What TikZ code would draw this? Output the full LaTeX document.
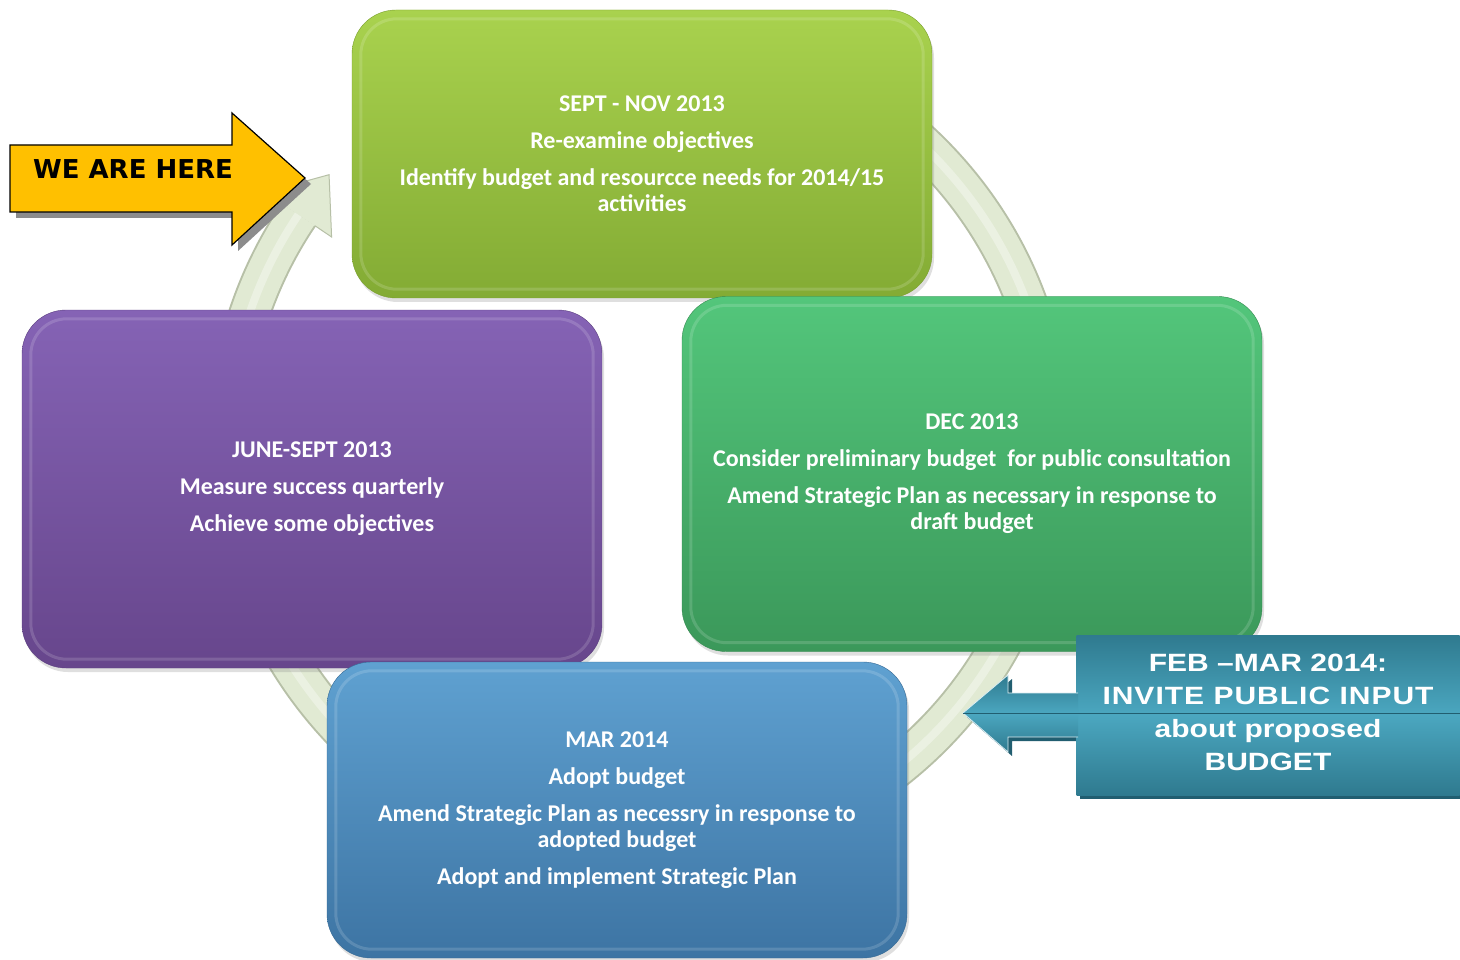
\documentclass[tikz,border=0pt]{standalone}
\usepackage{fontspec}
\setmainfont{Carlito}
\newfontfamily\herefont{DejaVu Sans}
\newfontfamily\calloutfont{Liberation Sans}[FakeStretch=1.2]
\usepackage{tikz}
\usetikzlibrary{
    shadows
}
\definecolor{limetop}{HTML}{A9D24E}
\definecolor{limebot}{HTML}{83AB34}
\definecolor{limeedge}{HTML}{7A9F2E}
\definecolor{jadetop}{HTML}{53C67B}
\definecolor{jadebot}{HTML}{3B985A}
\definecolor{jadeedge}{HTML}{348A50}
\definecolor{plumtop}{HTML}{8563B5}
\definecolor{plumbot}{HTML}{67468C}
\definecolor{plumedge}{HTML}{5C3F80}
\definecolor{skytop}{HTML}{5FA1D1}
\definecolor{skybot}{HTML}{3D74A3}
\definecolor{skyedge}{HTML}{366A95}
\definecolor{ringfill}{HTML}{E1EAD3}
\definecolor{ringedge}{HTML}{B7C0A7}
\definecolor{ringlight}{HTML}{EBF1E2}
\definecolor{hereyellow}{HTML}{FFC000}
\definecolor{tealedge}{HTML}{2F7A8F}
\definecolor{tealmid}{HTML}{4BA7C0}
\definecolor{tealdark}{HTML}{215E70}
\tikzset{
    stage/.style={rounded corners=44pt, minimum width=580pt, text=white,
        align=center, font=\fontsize{24}{26}\selectfont\bfseries,
        drop shadow={shadow xshift=2pt, shadow yshift=-4pt, opacity=0.25}},
    rim/.style={draw=white, draw opacity=0.15, line width=3pt, rounded corners=36pt},
    band/.style={line width=#1}
}

\begin{document}
\begin{tikzpicture}[x=1pt, y=-1pt]
        \useasboundingbox[fill=white] (0,0) rectangle (1460,960);

        % the ring behind the stages
        \coordinate (hub) at (640,445);
        \draw[band=42pt, ringedge] ([shift={(-130:412)}]hub) arc[start angle=-130, end angle=214, radius=412];
        \draw[band=38pt, ringfill] ([shift={(-130:412)}]hub) arc[start angle=-130, end angle=214, radius=412];
        \draw[band=8pt, ringlight] ([shift={(-130:412)}]hub) arc[start angle=-130, end angle=214, radius=412];
        \fill[ringfill] ([shift={(214:452)}]hub) -- ([shift={(221:412)}]hub) -- ([shift={(214:372)}]hub) -- cycle;
        \draw[ringedge, line width=1pt] ([shift={(214:432)}]hub) -- ([shift={(214:452)}]hub)
            -- ([shift={(221:412)}]hub) -- ([shift={(214:372)}]hub) -- ([shift={(214:392)}]hub);

        % stages
        \draw (642,154) node[stage, minimum height=288pt, draw=limeedge, top color=limetop, bottom color=limebot](sept){SEPT - NOV 2013\\[11pt]
            Re-examine objectives\\[11pt]
            Identify budget and resourcce needs for 2014/15\\ activities};
        \draw (972,474) node[stage, minimum height=355pt, draw=jadeedge, top color=jadetop, bottom color=jadebot](dec){DEC 2013\\[11pt]
            Consider preliminary budget\ \ for public consultation\\[11pt]
            Amend Strategic Plan as necessary in response to\\ draft budget};
        \draw (312,489) node[stage, minimum height=358pt, draw=plumedge, top color=plumtop, bottom color=plumbot](june){JUNE-SEPT 2013\\[11pt]
            Measure success quarterly\\[11pt]
            Achieve some objectives};
        \draw (617,810) node[stage, minimum height=296pt, draw=skyedge, top color=skytop, bottom color=skybot](mar){MAR 2014\\[11pt]
            Adopt budget\\[11pt]
            Amend Strategic Plan as necessry in response to\\ adopted budget\\[11pt]
            Adopt and implement Strategic Plan};
        \foreach \s in {sept, dec, june, mar}
            \draw[rim] ([shift={(9pt,-9pt)}]\s.north west) rectangle ([shift={(-9pt,9pt)}]\s.south east);

        % we are here
        \fill[black!45] (16,151) -- (238,151) -- (238,119) -- (311,184) -- (238,251) -- (238,218) -- (16,218) -- cycle;
        \draw[fill=hereyellow, line width=1.2pt] (10,145) -- (232,145) -- (232,113) -- (305,178) -- (232,245) -- (232,212) -- (10,212) -- cycle;
        \draw (133,169) node[font=\herefont\bfseries\fontsize{26}{30}\selectfont](here){WE ARE HERE};

        % public input callout
        \fill[tealdark] (1080,640) rectangle (1460,799);
        \fill[tealdark] (967,717) -- (1012,679) -- (1012,697) -- (1080,697) -- (1080,741) -- (1012,741) -- (1012,756) -- cycle;
        \draw (1268,715) node[minimum width=383pt, minimum height=160pt, top color=tealedge, bottom color=tealedge, middle color=tealmid,
            text=white, align=center, font=\calloutfont\bfseries\fontsize{25}{33}\selectfont](input){FEB \textendash MAR 2014:\\
            {\addfontfeature{LetterSpace=4}INVITE PUBLIC INPUT}\\ about proposed\\ BUDGET\vphantom{p}};
        \shade[top color=tealedge, bottom color=tealedge, middle color=tealmid, draw=white!80!tealmid, line width=0.8pt]
            (1078,693) -- (1008,693) -- (1008,675) -- (963,713) -- (1008,752) -- (1008,737) -- (1078,737);
        \draw[tealdark, line width=1pt] (963,713) -- (input.east |- 963,713);
    \end{tikzpicture}
\end{document}
